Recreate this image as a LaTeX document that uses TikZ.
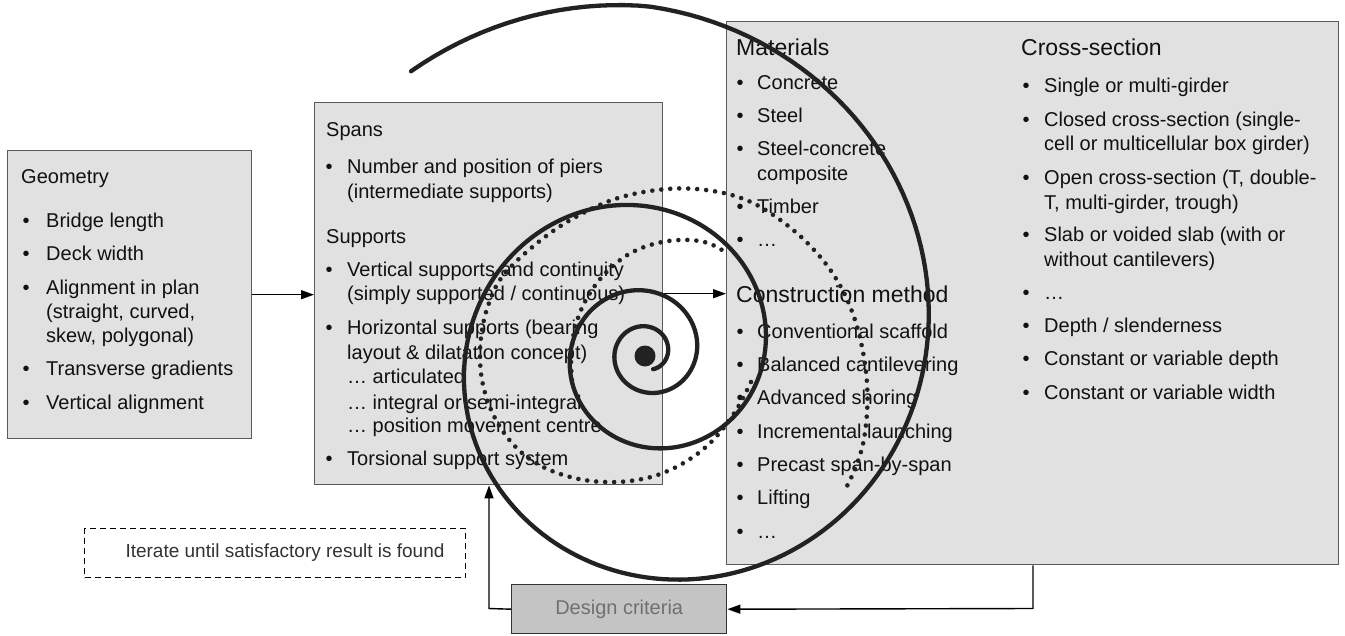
\documentclass[tikz,border=0pt]{standalone}
\usepackage{fontspec}
\setmainfont{Liberation Sans}
\usetikzlibrary{arrows.meta,calc}
\definecolor{boxfill}{HTML}{E1E1E1}
\definecolor{boxline}{HTML}{5A5A5A}
\definecolor{critfill}{HTML}{C4C4C4}
\definecolor{crittext}{HTML}{707070}
\definecolor{spiralcol}{HTML}{222222}
\definecolor{inktext}{HTML}{111111}
\newcommand\bodysize{\fontsize{20pt}{24pt}\selectfont}
\newcommand\headsize{\fontsize{23pt}{27pt}\selectfont}
\newcommand\notesize{\fontsize{19pt}{23pt}\selectfont}
\begin{document}
\begin{tikzpicture}[x=1pt,y=-1pt,
  panel/.style={draw=boxline, fill=boxfill, line width=1.4pt, anchor=north west, inner sep=0pt},
  txt/.style={anchor=base west, inner sep=0pt, font=\bodysize, text=inktext},
  head/.style={txt, font=\headsize},
  conn/.style={line width=1.4pt, -{Triangle[length=13pt,width=9pt]}},
  solidsp/.style={line width=4.3pt, draw=spiralcol, line cap=round},
  dotsp/.style={line width=4.6pt, draw=spiralcol, line cap=round, dash pattern=on 0pt off 9pt}]

\useasboundingbox (0,0) rectangle (1345,635);
\fill[white] (0,0) rectangle (1345,635);

% boxes
\node[panel, minimum width=244pt, minimum height=288pt] (geo) at (7,150) {};
\node[panel, minimum width=348pt, minimum height=382pt] (spans) at (314,102) {};
\node[panel, minimum width=612pt, minimum height=543pt] (big) at (726,21) {};
\node[draw=black!80, fill=critfill, line width=1.4pt, anchor=north west, inner sep=0pt,
      minimum width=215pt, minimum height=49pt, font=\bodysize, text=crittext] (crit) at (511,584) {Design criteria};
\node[draw=black, dash pattern=on 6pt off 4pt, fill=white, line width=1.3pt, anchor=north west, inner sep=0pt,
      minimum width=381pt, minimum height=49pt] (iter) at (84,528) {};
\node[inner sep=0pt, font=\notesize, text=black!80] (iterlbl) at (285,552.5) {Iterate until satisfactory result is found};

% Geometry text
\node[txt] (g0) at (21,183) {Geometry};
\node[txt] (gb1) at (22.5,227) {•};
\node[txt] (g1) at (46,227) {Bridge length};
\node[txt] (gb2) at (22.5,260) {•};
\node[txt] (g2) at (46,260) {Deck width};
\node[txt] (gb3) at (22.5,294) {•};
\node[txt] (g3) at (46,294) {Alignment in plan};
\node[txt] (g3b) at (46,318) {(straight, curved,};
\node[txt] (g3c) at (46,342) {skew, polygonal)};
\node[txt] (gb4) at (22.5,375) {•};
\node[txt] (g4) at (46,375) {Transverse gradients};
\node[txt] (gb5) at (22.5,409) {•};
\node[txt] (g5) at (46,409) {Vertical alignment};

% Spans text
\node[txt] (s0) at (326,136) {Spans};
\node[txt] (sb1) at (325.5,173) {•};
\node[txt] (s1) at (347,173) {Number and position of piers};
\node[txt] (s1b) at (347,198) {(intermediate supports)};
\node[txt] (s2) at (326,243) {Supports};
\node[txt] (sb3) at (325.5,276) {•};
\node[txt] (s3) at (347,276) {Vertical supports and continuity};
\node[txt] (s3b) at (347,300) {(simply supported / continuous)};
\node[txt] (sb4) at (325.5,334) {•};
\node[txt] (s4) at (347,334) {Horizontal supports (bearing};
\node[txt] (s4b) at (347,359) {layout \& dilatation concept)};
\node[txt] (s4c) at (347,383) {… articulated};
\node[txt] (s4d) at (347,409) {… integral or semi-integral};
\node[txt] (s4e) at (347,432) {… position movement centre};
\node[txt] (sb5) at (325.5,465) {•};
\node[txt] (s5) at (347,465) {Torsional support system};

% Materials
\node[head] (m0) at (736,55) {Materials};
\node[txt] (mb1) at (736.5,89) {•};
\node[txt] (m1) at (757,89) {Concrete};
\node[txt] (mb2) at (736.5,122) {•};
\node[txt] (m2) at (757,122) {Steel};
\node[txt] (mb3) at (736.5,155) {•};
\node[txt] (m3) at (757,155) {Steel-concrete};
\node[txt] (m3b) at (757,180) {composite};
\node[txt] (mb4) at (736.5,213) {•};
\node[txt] (m4) at (757,213) {Timber};
\node[txt] (mb5) at (736.5,246) {•};
\node[txt] (m5) at (757,246) {…};

% Construction method
\node[head] (c0) at (736,302) {Construction method};
\node[txt] (cb1) at (736.5,338) {•};
\node[txt] (c1) at (757,338) {Conventional scaffold};
\node[txt] (cb2) at (736.5,371) {•};
\node[txt] (c2) at (757,371) {Balanced cantilevering};
\node[txt] (cb3) at (736.5,404) {•};
\node[txt] (c3) at (757,404) {Advanced shoring};
\node[txt] (cb4) at (736.5,438) {•};
\node[txt] (c4) at (757,438) {Incremental launching};
\node[txt] (cb5) at (736.5,471) {•};
\node[txt] (c5) at (757,471) {Precast span-by-span};
\node[txt] (cb6) at (736.5,504) {•};
\node[txt] (c6) at (757,504) {Lifting};
\node[txt] (cb7) at (736.5,538) {•};
\node[txt] (c7) at (757,538) {…};

% Cross-section
\node[head] (x0) at (1021,55) {Cross-section};
\node[txt] (xb1) at (1022.5,92) {•};
\node[txt] (x1) at (1044,92) {Single or multi-girder};
\node[txt] (xb2) at (1022.5,126) {•};
\node[txt] (x2) at (1044,126) {Closed cross-section (single-};
\node[txt] (x2b) at (1044,150) {cell or multicellular box girder)};
\node[txt] (xb3) at (1022.5,184) {•};
\node[txt] (x3) at (1044,184) {Open cross-section (T, double-};
\node[txt] (x3b) at (1044,209) {T, multi-girder, trough)};
\node[txt] (xb4) at (1022.5,241) {•};
\node[txt] (x4) at (1044,241) {Slab or voided slab (with or};
\node[txt] (x4b) at (1044,266) {without cantilevers)};
\node[txt] (xb5) at (1022.5,299) {•};
\node[txt] (x5) at (1044,299) {…};
\node[txt] (xb6) at (1022.5,332) {•};
\node[txt] (x6) at (1044,332) {Depth / slenderness};
\node[txt] (xb7) at (1022.5,365) {•};
\node[txt] (x7) at (1044,365) {Constant or variable depth};
\node[txt] (xb8) at (1022.5,399) {•};
\node[txt] (x8) at (1044,399) {Constant or variable width};

% connectors
\draw[conn] (geo.east) -- (geo.east -| spans.west);
\draw[conn] (spans.east) -- (spans.east -| big.west);
\coordinate (drop) at (1033,608.5);
\draw[conn] (big.south -| drop) -- (drop) -- (crit.east);
\coordinate (lup) at (489,608.5);
\draw[conn] (crit.west) -- (lup) -- (lup |- spans.south);

% dotted spiral pieces
\draw[dotsp] plot[smooth, tension=0.6] coordinates {(572,380) (571,362) (572,345) (575,328) (581,310) (590,293) (601,278) (614,265) (629,254) (647,246) (668,241) (690,240) (708,243) (722,250)};
\draw[dotsp] plot[smooth, tension=0.6] coordinates {(751,382) (744,396) (735,412) (722,430) (707,446) (690,459) (670,470) (647,478) (617,482) (584,480) (552,471) (527,457) (507,437) (492,412) (483,385) (480,358) (482,330) (489,303) (502,277) (530,249) (567,222) (615,199) (667,189) (713,191) (753,203) (792,229) (822,259) (842,289) (855,320) (863,352) (867,383) (867,413) (863,444) (855,469) (846,488)};

% solid spiral
\draw[solidsp] plot[domain=-70:1210, samples=600] ({647+(21*exp(0.002397*\x)-0.35*max(0,\x-1170))*cos(\x)}, {352.5-(21*exp(0.002397*\x)-0.35*max(0,\x-1170))*sin(\x)});
\fill[spiralcol] (645,356) circle (10.5pt);
\end{tikzpicture}
\end{document}
